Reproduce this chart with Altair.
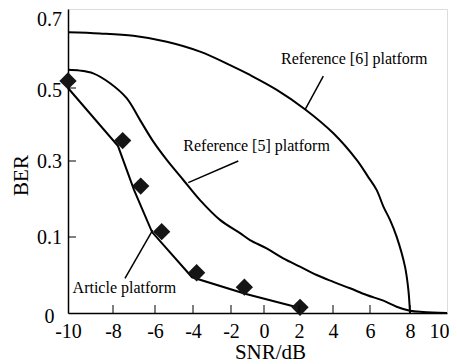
import altair as alt
import pandas as pd

FONT = "Liberation Serif, Times New Roman, serif"

# ---- tick labels ----
X_TICKS = [-10, -8, -6, -4, -2, 0, 2, 4, 6, 8, 10]
Y_TICKS = [0, 0.1, 0.3, 0.5, 0.7]
X_INNER_TICKS = [-8, -6, -4, -2, 0, 2, 4, 6, 8]
Y_INNER_TICKS = [0.1, 0.3, 0.5]

# ---- Article platform ----
art_line_x = [-10, -7.76, -7.0, -6.14, -4.05, -1.09, 2.06]
art_line_y = [0.5, 0.341, 0.224, 0.113, 0.047, 0.025, 0.0066]
art_mark_x = [-10, -7.54, -6.68, -5.65, -3.81, -1.19, 2.06]
art_mark_y = [0.518, 0.356, 0.234, 0.114, 0.053, 0.034, 0.0075]

# ---- Reference [5] platform ----
ref5_x = [-10, -9.47, -8.88, -8.13, -7.35, -6.71, -6.08, -5.38, -4.51, -3.63,
          -2.58, -1.45, -0.85, 0.15, 1.1, 2.06, 3.04, 4.02, 4.92, 5.82,
          6.67, 7.33, 8.0, 8.7, 10]
ref5_y = [0.546, 0.544, 0.537, 0.512, 0.472, 0.412, 0.353, 0.303, 0.25, 0.197,
          0.145, 0.11, 0.096, 0.085, 0.072, 0.061, 0.05, 0.041, 0.0325, 0.0237,
          0.0162, 0.0083, 0.003, 0.0013, 0.0]

# ---- Reference [6] platform ----
ref6_x = [-10, -8.58, -7.03, -5.38, -3.63, -2.05, -0.85, 0.73, 2.35, 4.02,
          5.28, 5.89, 6.33, 6.67, 7.0, 7.33, 7.75, 7.92, 8.0]
ref6_y = [0.641, 0.638, 0.632, 0.617, 0.592, 0.558, 0.533, 0.495, 0.442, 0.376,
          0.303, 0.259, 0.224, 0.18, 0.145, 0.101, 0.061, 0.030, 0.0]

# ---- annotations ----
label_text = ["Reference [6] platform", "Reference [5] platform", "Article platform"]
label_x = [5.15, -0.45, -7.46]
label_y = [0.56, 0.328, 0.0267]
leader_x1 = [3.43, -1.56, -7.43]
leader_y1 = [0.53, 0.30, 0.0457]
leader_x2 = [2.35, -4.25, -6.11]
leader_y2 = [0.44, 0.243, 0.118]

W, H = 379, 304
xs = alt.Scale(domain=X_TICKS, range=[0, 45, 87, 125, 163, 196, 231, 265, 302, 342, 379])
ys = alt.Scale(domain=Y_TICKS, range=[304, 228, 152, 79, 0])

xaxis = alt.Axis(values=X_TICKS, ticks=False, tickSize=0, grid=False,
                 labelExpr="'' + datum.value", labelFont=FONT, labelFontSize=20,
                 labelColor="black", labelBaseline="alphabetic", labelPadding=24,
                 labelFlush=False, labelOverlap=False,
                 labelOffset={"condition": {"test": "datum.value === 10", "value": -8},
                              "value": 0},
                 domainColor="black", domainWidth=1.5,
                 title="SNR/dB", titleFont=FONT, titleFontSize=21, titleFontWeight="normal",
                 titleColor="black", titleX=202, titleY=45, titleBaseline="alphabetic",
                 titleAnchor="start", titleAlign="center")
yaxis = alt.Axis(values=Y_TICKS, ticks=False, tickSize=0, grid=False,
                 labelExpr="'' + datum.value", labelFont=FONT, labelFontSize=20,
                 labelColor="black", labelAlign="center", labelBaseline="middle",
                 labelPadding=19, labelFlush=False, labelOverlap=False,
                 labelOffset={"condition": [{"test": "datum.value === 0.7", "value": 10},
                                            {"test": "datum.value === 0", "value": 3},
                                            {"test": "datum.value === 0.5", "value": 2}],
                              "value": 0},
                 domainColor="black", domainWidth=1.5,
                 title="BER", titleFont=FONT, titleFontSize=21, titleFontWeight="normal",
                 titleColor="black", titleX=-47, titleY=166, titleAngle=270,
                 titleBaseline="middle", titleAlign="center", titleAnchor="start")


def X(f):
    return alt.X(f, type="quantitative", scale=xs, axis=xaxis)


def Y(f):
    return alt.Y(f, type="quantitative", scale=ys, axis=yaxis)


def line_df(xv, yv):
    return pd.DataFrame({"x": xv, "y": yv, "i": list(range(len(xv)))})


ref6 = alt.Chart(line_df(ref6_x, ref6_y)).mark_line(
    color="black", strokeWidth=2, interpolate="catmull-rom").encode(
    x=X("x"), y=Y("y"), order="i:Q")
ref5 = alt.Chart(line_df(ref5_x, ref5_y)).mark_line(
    color="black", strokeWidth=2, interpolate="catmull-rom").encode(
    x=X("x"), y=Y("y"), order="i:Q")
art = alt.Chart(line_df(art_line_x, art_line_y)).mark_line(
    color="black", strokeWidth=2).encode(x=X("x"), y=Y("y"), order="i:Q")
marks = alt.Chart(pd.DataFrame({"x": art_mark_x, "y": art_mark_y})).mark_point(
    shape="diamond", filled=True, color="#151515", opacity=1, size=300).encode(
    x=X("x"), y=Y("y"))

leaders = alt.Chart(pd.DataFrame({"x": leader_x1, "y": leader_y1,
                                  "x2": leader_x2, "y2": leader_y2})).mark_rule(
    color="black", strokeWidth=1.5).encode(x=X("x"), y=Y("y"), x2="x2", y2="y2")
labels = alt.Chart(pd.DataFrame({"x": label_x, "y": label_y, "t": label_text})).mark_text(
    font=FONT, fontSize=16, color="black", align="center", baseline="alphabetic").encode(
    x=X("x"), y=Y("y"), text="t:N")

xt = alt.Chart(pd.DataFrame({"x": X_INNER_TICKS, "y": [0] * len(X_INNER_TICKS)})).mark_tick(
    orient="vertical", size=8, thickness=1, color="black", yOffset=-4, opacity=1).encode(
    x=X("x"), y=Y("y"))
yt = alt.Chart(pd.DataFrame({"x": [-10] * len(Y_INNER_TICKS), "y": Y_INNER_TICKS})).mark_tick(
    orient="horizontal", size=8, thickness=1, color="black", xOffset=4, opacity=1).encode(
    x=X("x"), y=Y("y"))

chart = alt.layer(ref6, ref5, art, marks, leaders, labels, xt, yt).properties(
    width=W, height=H,
    autosize=alt.AutoSizeParams(type="none"),
    padding={"left": 60, "top": 1, "right": 2, "bottom": 50},
).configure_view(stroke="#333333", strokeWidth=1).configure(background="white")

chart.save("out.html", embed_options={"renderer": "svg", "actions": False})
